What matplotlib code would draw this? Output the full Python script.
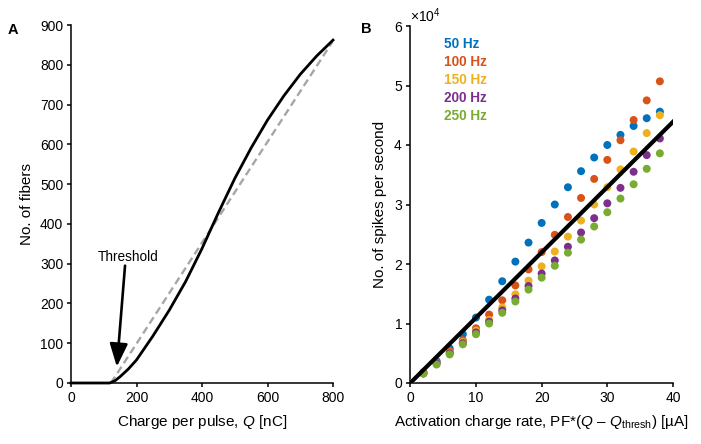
import numpy as np
import matplotlib
matplotlib.use("Agg")
import matplotlib.pyplot as plt
from matplotlib.ticker import ScalarFormatter

plt.rcParams['font.family'] = ['Liberation Sans', 'DejaVu Sans']
plt.rcParams['mathtext.fontset'] = 'custom'
plt.rcParams['mathtext.rm'] = 'Liberation Sans'
plt.rcParams['mathtext.it'] = 'Liberation Sans:italic'
plt.rcParams['mathtext.bf'] = 'Liberation Sans:bold'

# ---------------- Panel A data ----------------
charge_q = [0, 118, 135, 150, 175, 200, 250, 300, 350, 400, 450, 500, 550, 600, 650, 700, 750, 800]
n_fibers = [0, 0, 6, 16, 35, 58, 118, 183, 255, 338, 428, 514, 591, 661, 722, 776, 822, 862]
fit_a_q = [122, 800]
fit_a_n = [0, 860]
threshold_tip = (140, 41)
threshold_tail = (165, 295)
threshold_text_pos = (174, 317)

# ---------------- Panel B data ----------------
rate_x = [0, 2, 4, 6, 8, 10, 12, 14, 16, 18, 20, 22, 24, 26, 28, 30, 32, 34, 36, 38]
freq_labels = ['50 Hz', '100 Hz', '150 Hz', '200 Hz', '250 Hz']
spikes_50 = [0, 1800, 3700, 5800, 8200, 11000, 14000, 17100, 20400, 23600, 26900, 30000, 32900, 35600, 37900, 40000, 41700, 43200, 44500, 45600]
spikes_100 = [0, 1700, 3500, 5400, 7200, 9200, 11500, 13900, 16400, 19100, 22000, 24900, 27900, 31100, 34300, 37500, 40800, 44200, 47500, 50700]
spikes_150 = [0, 1600, 3300, 5100, 6900, 8800, 10600, 12700, 14900, 17200, 19600, 22100, 24600, 27300, 30000, 32900, 35900, 38900, 42000, 45000]
spikes_200 = [0, 1600, 3300, 5000, 6700, 8500, 10300, 12200, 14200, 16300, 18400, 20600, 22900, 25300, 27700, 30200, 32800, 35500, 38300, 41100]
spikes_250 = [0, 1600, 3100, 4800, 6500, 8200, 10000, 11800, 13700, 15700, 17700, 19700, 21900, 24100, 26300, 28700, 31000, 33400, 36000, 38600]
fit_b_x = [0, 40]
fit_b_y = [0, 43900]
colors = ['#0072BD', '#D95319', '#EDB120', '#7E2F8E', '#77AC30']

fig = plt.figure(figsize=(7.01, 4.44), dpi=100)
W, H = 701, 444

def add_axes(l, r, t, b):
    return fig.add_axes([l / W, 1 - b / H, (r - l) / W, (b - t) / H])

axA = add_axes(71, 333, 25, 383)
axB = add_axes(410.3, 673, 26, 383)

for ax in (axA, axB):
    for s in ('top', 'right'):
        ax.spines[s].set_visible(False)
    for s in ('left', 'bottom'):
        ax.spines[s].set_linewidth(1.1)
    ax.tick_params(direction='out', length=3, width=1.1, labelsize=10, pad=2.5)

# Panel A
axA.plot(fit_a_q, fit_a_n, color='#a6a6a6', lw=1.7, dashes=(3.2, 1.8), zorder=2)
axA.plot(charge_q, n_fibers, color='black', lw=2.0, zorder=3, clip_on=False)
axA.set_xlim(0, 800)
axA.set_ylim(0, 900)
axA.set_xticks([0, 200, 400, 600, 800])
axA.set_yticks(np.arange(0, 901, 100))
axA.set_xlabel('Charge per pulse, $Q$ [nC]', fontsize=11)
axA.set_ylabel('No. of fibers', fontsize=11)
axA.xaxis.set_label_coords(0.5, -0.083)
axA.yaxis.set_label_coords(-0.14, 0.5)
axA.text(threshold_text_pos[0], threshold_text_pos[1], 'Threshold', fontsize=9.8,
         ha='center', va='center')
axA.annotate('', xy=threshold_tip, xytext=threshold_tail,
             arrowprops=dict(arrowstyle='-|>,head_length=1.4,head_width=0.55',
                             lw=1.9, color='black', mutation_scale=10,
                             shrinkA=0, shrinkB=0))

# Panel B
series = [spikes_50, spikes_100, spikes_150, spikes_200, spikes_250]
for ys, c in zip(series, colors):
    axB.scatter(rate_x, ys, s=33, color=c, edgecolors='none', zorder=3)
axB.plot(fit_b_x, fit_b_y, color='black', lw=3, zorder=4)
axB.set_xlim(0, 40)
axB.set_ylim(0, 60000)
axB.set_xticks([0, 10, 20, 30, 40])
axB.set_yticks(np.arange(0, 60001, 10000))
fmt = ScalarFormatter(useMathText=True)
fmt.set_powerlimits((0, 0))
axB.yaxis.set_major_formatter(fmt)
axB.yaxis.get_offset_text().set_fontsize(10)
axB.set_xlabel('Activation charge rate, PF*($Q$ – $Q_{\\mathrm{thresh}}$) [µA]', fontsize=11)
axB.set_ylabel('No. of spikes per second', fontsize=11)
axB.xaxis.set_label_coords(0.5, -0.083)
axB.yaxis.set_label_coords(-0.088, 0.5)

for i, (lab, c) in enumerate(zip(freq_labels, colors)):
    axB.text(0.128, 0.949 - i * 0.0504, lab, color=c, fontsize=9.8,
             fontweight='bold', ha='left', va='center', transform=axB.transAxes)

fig.text(8 / W, 1 - 34 / H, 'A', fontsize=10.5, fontweight='bold', va='baseline')
fig.text(361 / W, 1 - 33 / H, 'B', fontsize=10.5, fontweight='bold', va='baseline')

fig.savefig('out.png', dpi=100)
